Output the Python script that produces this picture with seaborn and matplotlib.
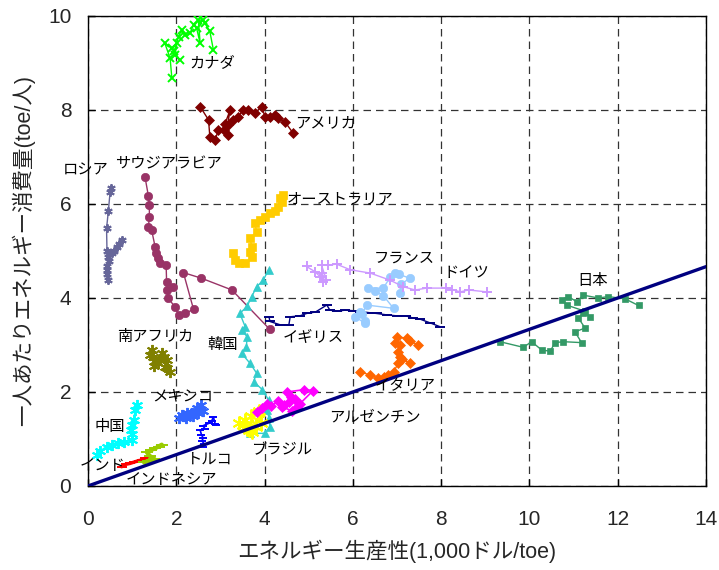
import matplotlib
matplotlib.use("Agg")
import matplotlib.pyplot as plt
import seaborn as sns
import numpy as np

sns.set_style("ticks")
plt.rcParams['font.family'] = ['Liberation Sans', 'Noto Sans CJK JP']

# energy productivity (1,000 USD/toe) and per-capita consumption (toe/person)
canada_x = [1.90, 1.86, 1.74, 1.90, 2.01, 1.97, 2.08, 1.95, 2.05, 2.12, 2.20, 2.31, 2.39, 2.46, 2.54, 2.50, 2.61, 2.65, 2.76, 2.84]
canada_y = [8.67, 9.10, 9.42, 9.31, 9.42, 9.17, 9.06, 9.25, 9.56, 9.70, 9.60, 9.63, 9.81, 9.74, 9.42, 9.91, 9.91, 9.84, 9.67, 9.28]
usa_x = [2.54, 2.73, 2.76, 2.88, 2.95, 3.07, 3.18, 3.16, 3.22, 3.10, 3.29, 3.40, 3.52, 3.63, 3.78, 3.93, 4.01, 4.12, 4.24, 4.31, 4.46, 4.65]
usa_y = [8.07, 7.79, 7.43, 7.36, 7.57, 7.57, 7.47, 7.68, 8.00, 7.70, 7.79, 7.86, 8.00, 8.00, 7.93, 8.07, 7.86, 7.86, 7.89, 7.82, 7.75, 7.50]
russia_x = [0.51, 0.50, 0.46, 0.42, 0.43, 0.46, 0.42, 0.44, 0.46, 0.43, 0.48, 0.54, 0.58, 0.65, 0.70, 0.76]
russia_y = [6.33, 6.25, 5.84, 5.48, 5.00, 4.88, 4.67, 4.50, 4.38, 4.60, 4.78, 4.95, 5.00, 5.09, 5.15, 5.23]
saudi_x = [4.12, 3.26, 2.57, 2.16, 2.39, 2.20, 2.05, 1.97, 1.82, 1.80, 1.93, 1.78, 1.77, 1.63, 1.58, 1.55, 1.52, 1.44, 1.37, 1.39, 1.39, 1.37, 1.29]
saudi_y = [3.33, 4.17, 4.42, 4.54, 3.76, 3.67, 3.64, 3.81, 3.99, 4.17, 4.24, 4.35, 4.70, 4.74, 4.85, 4.95, 5.09, 5.45, 5.52, 5.73, 5.98, 6.16, 6.58]
australia_x = [3.29, 3.33, 3.41, 3.56, 3.71, 3.66, 3.71, 3.67, 3.82, 3.78, 3.90, 4.01, 4.12, 4.24, 4.30, 4.39, 4.35, 4.42]
australia_y = [4.95, 4.80, 4.74, 4.74, 4.88, 4.98, 5.09, 5.27, 5.41, 5.59, 5.66, 5.73, 5.80, 5.84, 5.94, 6.05, 6.12, 6.19]
korea_x = [3.67, 4.01, 4.12, 4.10, 4.05, 4.09, 3.95, 3.75, 3.82, 3.67, 3.48, 3.59, 3.60, 3.48, 3.56, 3.44, 3.60, 3.71, 3.82, 3.97, 4.09]
korea_y = [1.12, 1.12, 1.26, 1.45, 1.62, 1.83, 2.05, 2.22, 2.40, 2.61, 2.82, 2.96, 3.18, 3.32, 3.39, 3.67, 3.82, 4.03, 4.24, 4.38, 4.60]
uk_x = [4.10, 4.12, 4.35, 4.55, 4.58, 4.80, 4.95, 5.15, 5.41, 5.48, 5.65, 5.82, 6.00, 6.16, 6.35, 6.54, 6.77, 7.00, 7.20, 7.37, 7.52, 7.75, 7.97]
uk_y = [3.60, 3.50, 3.43, 3.43, 3.60, 3.62, 3.67, 3.70, 3.85, 3.74, 3.72, 3.74, 3.73, 3.71, 3.69, 3.67, 3.64, 3.62, 3.62, 3.57, 3.55, 3.47, 3.39]
france_x = [6.28, 6.05, 6.16, 6.28, 6.20, 6.31, 6.92, 6.69, 6.50, 6.35, 6.69, 6.85, 6.96, 7.05, 7.29, 7.10, 7.07]
france_y = [3.46, 3.60, 3.71, 3.50, 3.65, 3.85, 3.78, 4.05, 4.15, 4.21, 4.21, 4.45, 4.53, 4.50, 4.42, 4.30, 4.10]
germany_x = [4.95, 5.14, 5.26, 5.33, 5.29, 5.40, 5.29, 5.44, 5.63, 5.94, 6.39, 6.84, 7.14, 7.41, 7.67, 8.12, 8.25, 8.43, 8.62, 9.03]
germany_y = [4.67, 4.56, 4.45, 4.35, 4.53, 4.38, 4.70, 4.70, 4.72, 4.60, 4.53, 4.38, 4.24, 4.17, 4.21, 4.21, 4.18, 4.13, 4.17, 4.13]
italy_x = [6.16, 6.39, 6.58, 6.70, 6.80, 6.92, 7.03, 7.07, 7.29, 7.12, 7.03, 7.07, 6.96, 6.99, 7.22, 7.30, 7.48]
italy_y = [2.43, 2.36, 2.29, 2.31, 2.36, 2.43, 2.61, 2.75, 2.61, 2.70, 2.86, 3.00, 3.04, 3.18, 3.14, 3.08, 3.00]
japan_x = [9.33, 9.86, 10.05, 10.28, 10.47, 10.58, 10.77, 11.18, 11.03, 11.26, 11.11, 11.22, 11.37, 11.25, 10.84, 10.73, 10.88, 11.07, 11.22, 11.56, 11.79, 12.17, 12.47]
japan_y = [3.07, 2.95, 3.07, 2.89, 2.87, 3.05, 3.07, 3.05, 3.28, 3.36, 3.57, 3.67, 3.60, 3.72, 3.85, 3.96, 4.03, 3.92, 4.06, 4.00, 4.03, 3.98, 3.84]
safrica_x = [1.44, 1.40, 1.48, 1.52, 1.59, 1.50, 1.67, 1.62, 1.72, 1.78, 1.74, 1.80, 1.86]
safrica_y = [2.89, 2.78, 2.75, 2.65, 2.61, 2.55, 2.82, 2.70, 2.74, 2.68, 2.54, 2.50, 2.43]
mexico_x = [2.06, 2.12, 2.18, 2.25, 2.30, 2.22, 2.35, 2.42, 2.38, 2.48, 2.55, 2.50, 2.60]
mexico_y = [1.45, 1.50, 1.48, 1.56, 1.52, 1.44, 1.55, 1.60, 1.48, 1.66, 1.72, 1.55, 1.60]
china_x = [0.20, 0.28, 0.42, 0.55, 0.69, 0.82, 0.99, 1.00, 0.98, 1.00, 1.04, 1.06, 1.10]
china_y = [0.66, 0.75, 0.84, 0.88, 0.91, 0.94, 0.98, 1.10, 1.19, 1.30, 1.40, 1.62, 1.72]
india_x = [0.76, 0.85, 0.95, 1.05, 1.15, 1.22, 1.29]
india_y = [0.41, 0.46, 0.48, 0.51, 0.54, 0.55, 0.59]
indonesia_x = [1.27, 1.35, 1.44, 1.50, 1.40, 1.33, 1.42, 1.52, 1.60, 1.67]
indonesia_y = [0.50, 0.53, 0.55, 0.58, 0.64, 0.72, 0.76, 0.80, 0.84, 0.88]
turkey_x = [2.61, 2.63, 2.58, 2.61, 2.57, 2.54, 2.65, 2.60, 2.73, 2.80, 2.84, 2.88, 2.91]
turkey_y = [0.84, 0.90, 0.96, 1.02, 1.09, 1.19, 1.22, 1.28, 1.33, 1.38, 1.47, 1.32, 1.30]
brazil_x = [3.42, 3.50, 3.58, 3.55, 3.65, 3.72, 3.80, 3.70, 3.85, 3.92, 3.88]
brazil_y = [1.35, 1.30, 1.25, 1.40, 1.20, 1.15, 1.25, 1.48, 1.55, 1.35, 1.60]
argentina_x = [3.82, 3.95, 4.05, 4.15, 4.30, 4.45, 4.55, 4.60, 4.70, 4.73, 4.50, 4.90, 5.10, 4.80, 4.62, 4.40]
argentina_y = [1.58, 1.65, 1.75, 1.70, 1.80, 1.72, 1.78, 1.90, 1.85, 1.69, 2.00, 2.05, 2.03, 1.75, 1.60, 1.68]

# reference line: 3,000 USD of output per toe per person
ref_x = [0, 14]
ref_y = [0, 14 / 3]

# label text and its anchor point in data units
labels = ["カナダ", "アメリカ", "ロシア", "サウジアラビア", "オーストラリア", "フランス", "ドイツ", "日本",
          "イギリス", "南アフリカ", "韓国", "イタリア", "メキシコ", "アルゼンチン", "中国", "トルコ",
          "ブラジル", "インド", "インドネシア"]
label_x = [2.81, 5.39, -0.05, 1.81, 5.71, 7.16, 8.56, 11.42, 5.10, 1.52, 3.04, 7.18, 2.15, 6.50, 0.50, 2.76, 4.39, 0.34, 1.90]
label_y = [9.00, 7.72, 6.72, 6.83, 6.09, 4.83, 4.53, 4.36, 3.17, 3.17, 3.00, 2.13, 1.91, 1.45, 1.26, 0.57, 0.77, 0.43, 0.13]

ASTER = (6, 2, 0)
series = [
    (canada_x, canada_y, "#00FF00", "x", 6, 1.0),
    (usa_x, usa_y, "#800000", "D", 5, 1.0),
    (russia_x, russia_y, "#666699", ASTER, 6, 1.0),
    (saudi_x, saudi_y, "#993366", "o", 6, 1.0),
    (australia_x, australia_y, "#FFCC00", "s", 6, 1.0),
    (korea_x, korea_y, "#33CCCC", "^", 6, 1.0),
    (uk_x, uk_y, "#000080", "_", 7, 1.0),
    (france_x, france_y, "#99CCFF", "o", 6, 1.0),
    (germany_x, germany_y, "#CC99FF", "+", 7, 1.0),
    (italy_x, italy_y, "#FF6600", "D", 5, 1.0),
    (japan_x, japan_y, "#339966", "s", 5, 1.0),
    (safrica_x, safrica_y, "#808000", ASTER, 8, 1.0),
    (mexico_x, mexico_y, "#3366FF", ASTER, 8, 1.0),
    (china_x, china_y, "#00FFFF", ASTER, 8, 1.0),
    (india_x, india_y, "#FF0000", "_", 7, 2.5),
    (indonesia_x, indonesia_y, "#99CC00", "_", 9, 3.0),
    (turkey_x, turkey_y, "#0000FF", "_", 6, 1.2),
    (brazil_x, brazil_y, "#FFFF00", ASTER, 10, 1.5),
    (argentina_x, argentina_y, "#FF00FF", "D", 5, 1.2),
]

fig = plt.figure(figsize=(7.19, 5.70), dpi=100)
ax = fig.add_axes([0.1224, 0.1474, 0.8596, 0.8246])

for xs, ys, col, mk, ms, lw in series:
    unfilled = mk in ("x", "+", "_") or isinstance(mk, tuple)
    sns.lineplot(x=xs, y=ys, sort=False, estimator=None, ax=ax, color=col, linewidth=lw,
                 marker=mk, markersize=ms, markerfacecolor=col, markeredgecolor=col,
                 markeredgewidth=1.4 if unfilled else 0.5, zorder=3)

sns.lineplot(x=ref_x, y=ref_y, ax=ax, color="#000080", linewidth=2.4, zorder=4)

for t, lx, ly in zip(labels, label_x, label_y):
    ax.text(lx, ly, t, fontsize=11, ha="center", va="center", color="black",
            zorder=5, clip_on=False)

ax.set_xlim(0, 14)
ax.set_ylim(0, 10)
ax.set_xticks(np.arange(0, 15, 2))
ax.set_yticks(np.arange(0, 11, 2))
ax.grid(True, color="#333333", linestyle=(0, (6, 4)), linewidth=0.9)
ax.set_axisbelow(True)
for s in ax.spines.values():
    s.set_visible(True)
    s.set_color("black")
    s.set_linewidth(1.0)
ax.tick_params(direction="in", length=5, width=1, labelsize=15, color="black")
ax.tick_params(axis="x", pad=17)
ax.tick_params(axis="y", pad=12)
ax.set_xlabel("エネルギー生産性(1,000ドル/toe)", fontsize=15.5)
ax.set_ylabel("一人あたりエネルギー消費量(toe/人)", fontsize=15.5)
ax.xaxis.set_label_coords(0.5, -0.114)
ax.yaxis.set_label_coords(-0.086, 0.5)

fig.savefig("out.png", dpi=100)
